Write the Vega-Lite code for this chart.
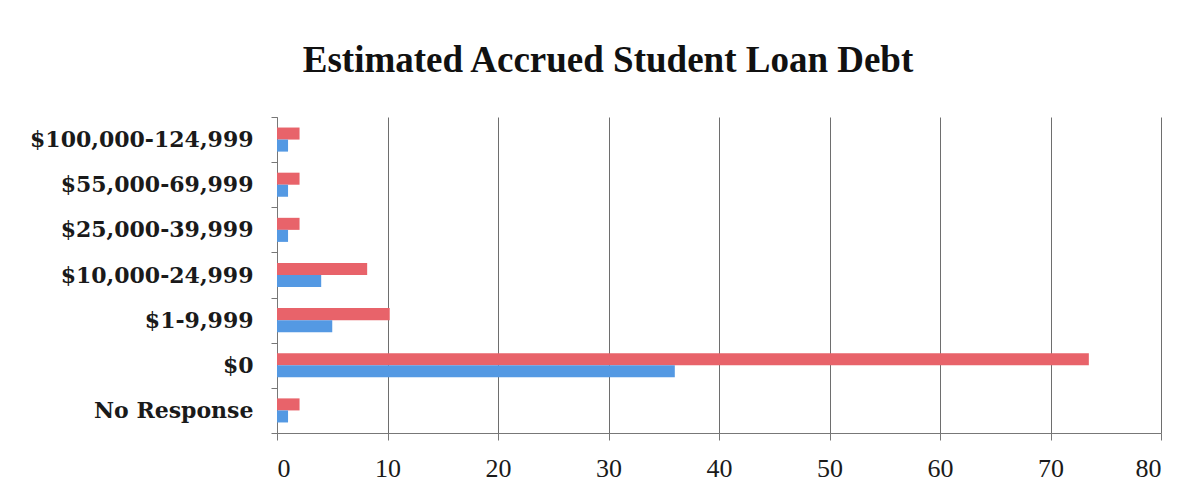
{
  "$schema": "https://vega.github.io/schema/vega-lite/v6.json",
  "width": 884,
  "height": 316,
  "padding": {"left": 29, "top": 42, "right": 35, "bottom": 5},
  "background": "white",
  "title": {
    "text": "Estimated Accrued Student Loan Debt",
    "font": "Liberation Serif",
    "fontSize": 37,
    "fontWeight": "bold",
    "color": "#111111",
    "anchor": "middle",
    "frame": "group",
    "dx": -111,
    "offset": 26
  },
  "data": {
    "values": [
      {"category": "$100,000-124,999", "series": "Percent", "value": 2.04},
      {"category": "$100,000-124,999", "series": "Responses", "value": 1},
      {"category": "$55,000-69,999", "series": "Percent", "value": 2.04},
      {"category": "$55,000-69,999", "series": "Responses", "value": 1},
      {"category": "$25,000-39,999", "series": "Percent", "value": 2.04},
      {"category": "$25,000-39,999", "series": "Responses", "value": 1},
      {"category": "$10,000-24,999", "series": "Percent", "value": 8.16},
      {"category": "$10,000-24,999", "series": "Responses", "value": 4},
      {"category": "$1-9,999", "series": "Percent", "value": 10.2},
      {"category": "$1-9,999", "series": "Responses", "value": 5},
      {"category": "$0", "series": "Percent", "value": 73.47},
      {"category": "$0", "series": "Responses", "value": 36},
      {"category": "No Response", "series": "Percent", "value": 2.04},
      {"category": "No Response", "series": "Responses", "value": 1}
    ]
  },
  "mark": {"type": "bar"},
  "encoding": {
    "y": {
      "field": "category",
      "type": "nominal",
      "sort": ["$100,000-124,999", "$55,000-69,999", "$25,000-39,999", "$10,000-24,999", "$1-9,999", "$0", "No Response"],
      "scale": {"paddingInner": 0, "paddingOuter": 0},
      "axis": {
        "title": null,
        "tickBand": "extent",
        "labelFont": "DejaVu Serif",
        "labelFontWeight": "bold",
        "labelFontSize": 22,
        "labelColor": "#1a1a1a",
        "labelLimit": 0,
        "labelPadding": 18,
        "tickSize": 6,
        "tickColor": "#777777",
        "domainColor": "#777777",
        "grid": false
      }
    },
    "yOffset": {
      "field": "series",
      "type": "nominal",
      "sort": ["Percent", "Responses"],
      "scale": {"paddingInner": 0, "paddingOuter": 0.875}
    },
    "x": {
      "field": "value",
      "type": "quantitative",
      "scale": {"domain": [0, 80], "nice": false},
      "axis": {
        "title": null,
        "values": [0, 10, 20, 30, 40, 50, 60, 70, 80],
        "grid": true,
        "gridColor": "#6e6e6e",
        "gridOpacity": 1,
        "gridWidth": 1,
        "labelFont": "Liberation Serif",
        "labelFontSize": 26,
        "labelColor": "#1a1a1a",
        "labelPadding": 15,
        "tickSize": 7,
        "tickColor": "#777777",
        "domainColor": "#777777"
      }
    },
    "color": {
      "field": "series",
      "type": "nominal",
      "scale": {"domain": ["Percent", "Responses"], "range": ["#E8636A", "#5499E3"]},
      "legend": null
    }
  },
  "config": {"view": {"stroke": null}}
}
